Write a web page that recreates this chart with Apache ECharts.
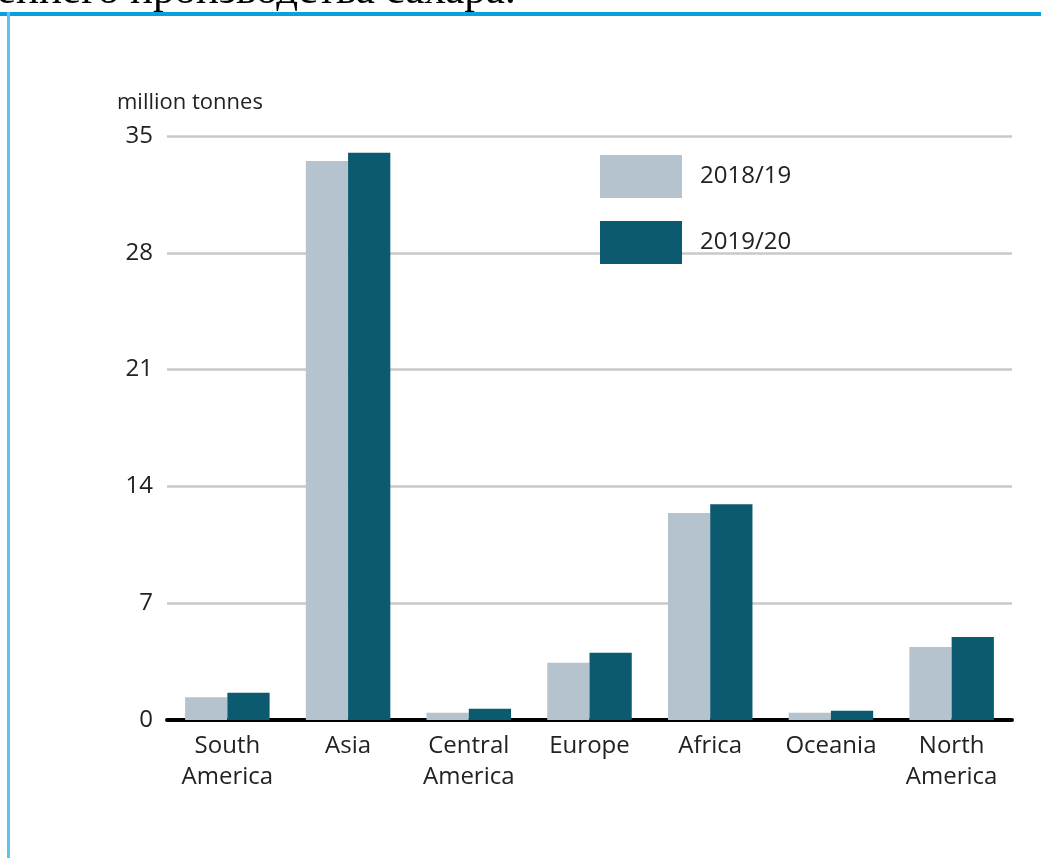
<!DOCTYPE html>
<html>
<head>
<meta charset="utf-8">
<script src="https://cdn.jsdelivr.net/npm/echarts@6/dist/echarts.min.js"></script>
<style>
html,body{margin:0;padding:0;background:#fff;}
#c{width:1041px;height:858px;}
</style>
</head>
<body>
<div id="c"></div>
<script>
const categories = ['South\nAmerica', 'Asia', 'Central\nAmerica', 'Europe', 'Africa', 'Oceania', 'North\nAmerica'];
const seriesNames = ['2018/19', '2019/20'];
const values2018 = [1.36, 33.5, 0.44, 3.43, 12.4, 0.44, 4.37];
const values2019 = [1.63, 34.0, 0.68, 4.03, 12.93, 0.56, 4.97];
const yTicks = [0, 7, 14, 21, 28, 35];
const unitLabel = 'million tonnes';
const headerText = 'еннего производства сахара.';

const FONT = '"Open Sans"';
const chart = echarts.init(document.getElementById('c'), null, {renderer: 'canvas'});
chart.setOption({
  backgroundColor: '#ffffff',
  animation: false,
  graphic: [
    {type: 'text', left: -3, top: -30, style: {text: headerText, font: '43px "Liberation Serif"', fill: '#000'}, z: 1},
    {type: 'rect', shape: {x: 0, y: 12, width: 1041, height: 4}, style: {fill: '#0aa0e0'}, z: 5},
    {type: 'rect', shape: {x: 7, y: 12, width: 3, height: 846}, style: {fill: '#5cc4ee'}, z: 5},
    {type: 'text', left: 117, top: 92, style: {text: unitLabel, font: '22px ' + FONT, fill: '#222'}}
  ],
  legend: {
    orient: 'vertical', left: 600, top: 155, padding: 0,
    itemWidth: 82, itemHeight: 43, itemGap: 23,
    icon: 'rect',
    textStyle: {fontFamily: FONT, fontSize: 24, color: '#222', padding: [0, 0, 0, 13]},
    data: seriesNames
  },
  grid: {left: 167, right: 29, top: 136, bottom: 138},
  xAxis: {
    type: 'category', data: categories,
    axisLine: {show: true, lineStyle: {color: '#000', width: 4}},
    axisTick: {show: false},
    axisLabel: {fontFamily: FONT, fontSize: 24, color: '#222', lineHeight: 31, margin: 11, interval: 0}
  },
  yAxis: {
    type: 'value', min: 0, max: 35, interval: 7,
    axisLine: {show: false}, axisTick: {show: false},
    axisLabel: {fontFamily: FONT, fontSize: 24, color: '#222', margin: 14,
      formatter: v => yTicks.includes(v) ? String(v) : ''},
    splitLine: {lineStyle: {color: '#c8c8c8', width: 2.5}}
  },
  series: [
    {name: seriesNames[0], type: 'bar', data: values2018, barGap: '0%', barCategoryGap: '30%', itemStyle: {color: '#b4c3cd'}},
    {name: seriesNames[1], type: 'bar', data: values2019, barGap: '0%', barCategoryGap: '30%', itemStyle: {color: '#0b5a6f'}}
  ]
});
</script>
</body>
</html>
